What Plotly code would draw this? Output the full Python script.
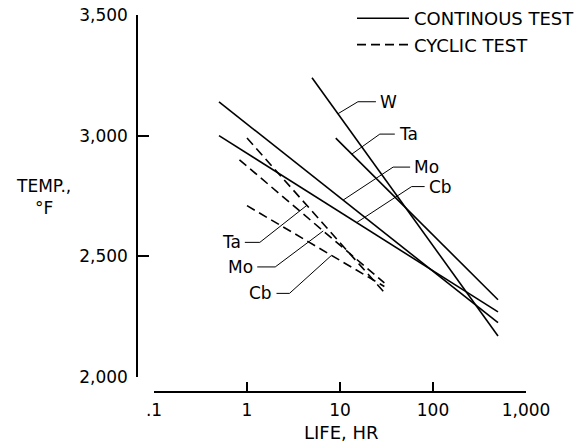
import numpy as np
import plotly.graph_objects as go

# ---------------- data ----------------
metals = ["W", "Ta", "Mo", "Cb"]
# continuous test lines (life, hr / temp, F) - start and end points
cont_life = {"W": [5, 500], "Ta": [9, 500], "Mo": [0.5, 500], "Cb": [0.5, 500]}
cont_temp = {"W": [3240, 2170], "Ta": [2990, 2320], "Mo": [3140, 2225], "Cb": [3000, 2270]}
# cyclic test lines
cyc_metals = ["Ta", "Mo", "Cb"]
cyc_life = {"Ta": [1.0, 30], "Mo": [0.83, 30], "Cb": [1.0, 30]}
cyc_temp = {"Ta": [2990, 2350], "Mo": [2900, 2390], "Cb": [2710, 2375]}

x_tickvals = [0.1, 1, 10, 100, 1000]
x_ticktext = [".1", "1", "10", "100", "1,000"]
y_tickvals = [2000, 2500, 3000, 3500]
y_ticktext = ["2,000", "2,500", "3,000", "3,500"]

# where the leader lines touch each curve (life, hr)
cont_label_at = {"W": 9.5, "Ta": 13.4, "Mo": 10.8, "Cb": 15.1}
cyc_label_at = {"Ta": 4.4, "Mo": 6.6, "Cb": 8.1}

FONT = "DejaVu Sans, Arial, sans-serif"
W_PX, H_PX = 587, 443


def px_x(p):
    return p / W_PX


def px_y(p):
    return (H_PX - p) / H_PX


def interp(life, temp, at):
    return float(np.interp(np.log10(at), np.log10(life), temp))


fig = go.Figure()
for i, m in enumerate(metals):
    fig.add_trace(go.Scatter(
        x=cont_life[m], y=cont_temp[m], mode="lines",
        line=dict(color="black", width=1.6),
        name="CONTINOUS TEST", legendgroup="cont", showlegend=(i == 0)))
for i, m in enumerate(cyc_metals):
    fig.add_trace(go.Scatter(
        x=cyc_life[m], y=cyc_temp[m], mode="lines",
        line=dict(color="black", width=1.6, dash="9px,5px"),
        name="CYCLIC TEST", legendgroup="cyc", showlegend=(i == 0)))

# leader geometry in pixels: (diagonal dx, diagonal dy upward, horizontal stub)
cont_leader = {"W": (20, 12, 18), "Ta": (28, 20, 15), "Mo": (50, 33, 17), "Cb": (55, 36, 13)}
cyc_leader = {"Ta": (-47, -37, -15), "Mo": (-48, -36, -18), "Cb": (-42, -38, -13)}

ann = []
shapes = []


def add_label(text, x_at, y_at, geom, side):
    dx, dy, stub = geom
    shapes.append(dict(type="path", xref="x", yref="y", xsizemode="pixel", ysizemode="pixel",
                       xanchor=x_at, yanchor=y_at,
                       path=f"M0,0 L{dx},{dy} L{dx + stub},{dy}",
                       line=dict(color="black", width=1)))
    gap = 2 if side == "left" else -2
    ann.append(dict(x=float(np.log10(x_at)), y=y_at, xref="x", yref="y", text=text,
                    showarrow=False, xshift=dx + stub + gap, yshift=dy,
                    xanchor=side, yanchor="middle",
                    font=dict(family=FONT, size=17, color="black")))


for m in metals:
    at = cont_label_at[m]
    add_label(m, at, interp(cont_life[m], cont_temp[m], at), cont_leader[m], "left")
for m in cyc_metals:
    at = cyc_label_at[m]
    add_label(m, at, interp(cyc_life[m], cyc_temp[m], at), cyc_leader[m], "right")

ann.append(dict(x=px_x(341), y=px_y(432), xref="paper", yref="paper",
                text="LIFE, HR", showarrow=False, yanchor="middle", xanchor="center",
                font=dict(family=FONT, size=18, color="black")))
ann.append(dict(x=px_x(43), y=px_y(197), xref="paper", yref="paper",
                text="TEMP.,<br>°F", showarrow=False, align="center",
                xanchor="center", yanchor="middle",
                font=dict(family=FONT, size=17, color="black")))

fig.update_layout(
    template="none",
    width=W_PX, height=H_PX,
    margin=dict(l=0, r=0, t=0, b=0, pad=0),
    paper_bgcolor="white", plot_bgcolor="white",
    font=dict(family=FONT, size=17, color="black"),
    annotations=ann, shapes=shapes,
    legend=dict(x=px_x(352), y=px_y(0), xanchor="left", yanchor="top",
                bgcolor="rgba(0,0,0,0)", itemwidth=52,
                font=dict(family=FONT, size=18, color="black"),
                tracegroupgap=0),
    xaxis=dict(type="log", range=[-1, 3], domain=[px_x(154), px_x(526)],
               anchor="free", position=px_y(392), automargin=False,
               showline=True, linecolor="black", linewidth=1.5,
               ticks="inside", ticklen=9, tickwidth=1.5, tickcolor="black",
               tickvals=x_tickvals, ticktext=x_ticktext, showgrid=False, zeroline=False,
               ticklabelstandoff=3,
               tickfont=dict(family=FONT, size=17, color="black")),
    yaxis=dict(range=[2000, 3500], domain=[px_y(377), px_y(15)],
               anchor="free", position=px_x(137), automargin=False,
               showline=True, linecolor="black", linewidth=1.5,
               ticks="inside", ticklen=11, tickwidth=1.5, tickcolor="black",
               tickvals=y_tickvals, ticktext=y_ticktext, showgrid=False, zeroline=False,
               ticklabelstandoff=5,
               tickfont=dict(family=FONT, size=17, color="black")),
)

fig.write_html("out.html", config={"displayModeBar": False},
               post_script="document.body.style.margin='0';document.body.style.overflow='hidden';")
